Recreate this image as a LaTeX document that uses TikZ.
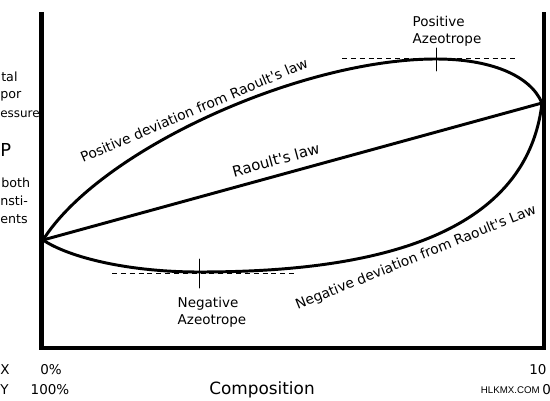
\documentclass[tikz,border=0pt]{standalone}
\usepackage{fontspec}
\setmainfont{DejaVu Sans}
\newfontfamily\wmfont{Liberation Sans}
\newcommand{\q}{\textquotesingle}
\begin{document}
\begin{tikzpicture}[x=0.025cm, y=-0.025cm, line join = round, line cap = round,
	lbl/.style={font=\fontsize{9.6}{12}\selectfont, inner sep=0pt},
	side/.style={font=\fontsize{9}{11}\selectfont, inner sep=0pt, anchor=west},
	curve/.style={line width=2.1pt},
	guide/.style={dash pattern=on 3.5pt off 2.8pt, line width=0.6pt, line cap=butt},
	tick/.style={line width=0.7pt}]
			\useasboundingbox (0,0) rectangle (550,400);
			%Axes
			\draw[line width=3.5pt, line cap=butt, line join=miter] (41.5,12)--(41.5,348)--(544,348)--(544,12);
			%End points and extrema
			\coordinate (L) at (43,240);
			\coordinate (R) at (542,103);
			\coordinate (pmax) at (436,59);
			\coordinate (nmin) at (199,272);
			%Curves
			\draw[curve] (L) .. controls (100,150) and (300,59) .. (pmax) .. controls (490,59) and (530,75) .. (R);
			\draw[curve] (L) .. controls (70,258) and (130,272) .. (nmin) .. controls (340,272) and (525,250) .. (R);
			\draw[curve] (L)--(R) node[lbl, font=\fontsize{10.6}{12}\selectfont, pos=0.475, sloped, above=6pt] (raoult) {Raoult\q s law};
			%Azeotrope marks
			\draw[guide] (pmax) ++(-94,-1)--++(176,0);
			\draw[tick] (pmax) ++(0,-11)--++(0,23);
			\draw[guide] (nmin) ++(-87,1)--++(186,0);
			\draw[tick] (nmin) ++(0,-13)--++(0,29);
			%Labels
			\node[lbl, align=left] (posaz) at (447,31) {Positive\\Azeotrope};
			\node[lbl, align=left] (negaz) at (212,312) {Negative\\Azeotrope};
			\node[lbl, font=\fontsize{9.8}{12}\selectfont, rotate=23] (posdev) at (194,110) {Positive deviation from Raoult\q s law};
			\node[lbl, font=\fontsize{9.8}{12}\selectfont, rotate=22] (negdev) at (416,258) {Negative deviation from Raoult\q s Law};
			%Left side
			\node[side] (t1) at (1,77) {tal};
			\node[side] (t2) at (0,96) {por};
			\node[side, font=\fontsize{8.5}{11}\selectfont] (t3) at (0,114) {essure};
			\node[lbl, font=\fontsize{12.7}{14}\selectfont, anchor=west] (p) at (0,150) {P};
			\node[side] (t4) at (1,183) {both};
			\node[side] (t5) at (0,201) {nsti-};
			\node[side] (t6) at (0,219) {ents};
			%Bottom
			\node[lbl, anchor=west] (xl) at (0,370) {X};
			\node[lbl] (x0) at (51,370) {0\%};
			\node[lbl, anchor=west] (yl) at (0,390) {Y};
			\node[lbl] (y0) at (50,390) {100\%};
			\node[lbl, font=\fontsize{12}{14}\selectfont] (comp) at (262,390) {Composition};
			\node[lbl, anchor=west] (x1) at (529,370) {10};
			\node[lbl, font=\wmfont\fontsize{6.9}{8}\selectfont, anchor=east] (wm) at (540,390) {HLKMX.COM};
			\node[lbl, anchor=west] (y1) at (542,390) {0};
		\end{tikzpicture}
\end{document}
